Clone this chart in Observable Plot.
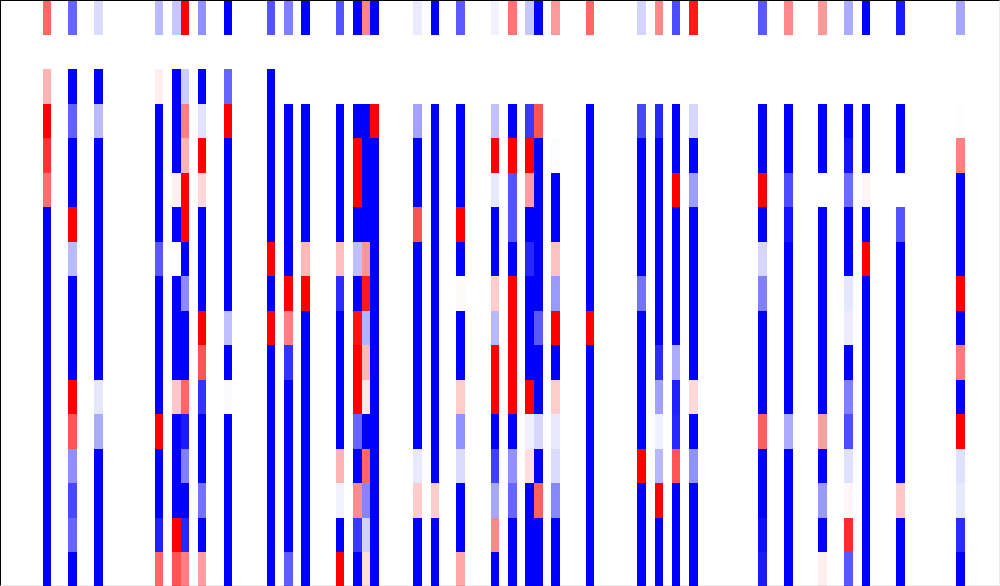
<!DOCTYPE html>
<html>
<head>
<meta charset="utf-8">
<script src="https://cdn.jsdelivr.net/npm/d3@7"></script>
<script src="https://cdn.jsdelivr.net/npm/@observablehq/plot@0.6"></script>
<style>
html,body{margin:0;padding:0;background:#fff;overflow:hidden}
#wrap{position:relative;width:1000px;height:586px}
#wrap svg{display:block}
#edge{position:absolute;left:0;top:0;width:1000px;height:586px;box-sizing:border-box;border-style:solid;border-width:1px;border-color:#000 rgba(0,0,0,.07) rgba(0,0,0,.07) #000;pointer-events:none}
</style>
</head>
<body>
<div id="wrap"><div id="edge"></div></div>
<script>
const columnCount = 116;
const rowCount = 17;
const _ = null;
const c005 = [-.6,_,-.3,-1,-.8,-.57,1,1,1,1,1,1,1,1,1,1,1];
const c008 = [.6,_,1,.62,1,1,-1,.27,1,1,1,-1,-.67,.44,.72,.6,1];
const c011 = [.14,_,1,.27,1,1,1,1,1,1,1,.1,.33,1,1,1,1];
const c018 = [.27,_,-.06,1,1,1,1,.65,1,1,1,1,-1,1,1,.87,-.6];
const c020 = [.22,_,1,1,1,-.06,1,_,1,1,1,-.22,1,1,1,-1,-.67];
const c021 = [-1,_,.2,-.5,-.3,-1,-1,1,.45,1,1,-.6,.9,.5,1,.85,-.5];
const c023 = [.43,_,1,.11,-1,-.15,1,1,1,-1,-.67,.8,1,1,.55,1,-.38];
const c026 = [1,_,.6,-1,1,1,1,1,1,.25,1,.02,1,1,1,1,1];
const c031 = [.67,_,1,1,1,1,1,-1,1,-1,1,1,1,1,1,1,1];
const c033 = [.5,_,_,1,1,1,1,1,-1,-.5,.8,1,1,1,1,1,.63];
const c035 = [1,_,_,1,1,1,1,-.28,-1,1,1,1,1,1,1,1,1];
const c039 = [.67,_,_,1,1,1,1,-.25,.83,1,1,1,1,-.3,.05,1,-1];
const c041 = [1,_,_,1,-1,-1,1,.25,1,-.93,-1,-1,.6,1,-.45,.78,1];
const c042 = [-.48,_,_,1,1,1,1,-.42,-.9,.3,-.28,-.1,1,-.6,.48,.18,-.13];
const c043 = [1,_,_,-1,1,1,1,1,1,1,1,1,1,1,1,1,1];
const c048 = [.08,_,_,.36,1,1,-.68,1,1,1,1,1,1,.09,-.2,1,1];
const c050 = [1,_,_,1,1,1,1,1,1,1,1,1,1,1,-.2,1,1];
const c053 = [.65,_,_,1,1,1,-1,1,-.02,1,1,-.2,.43,.14,1,1,-.35];
const c057 = [.05,_,_,.24,-1,.09,1,1,-.2,.28,-1,-1,1,.75,.35,-.47,1];
const c059 = [-.55,_,_,1,-1,.67,.67,1,-1,-1,-1,-1,1,.43,.6,1,1];
const c061 = [.22,_,_,.78,-1,-.38,1,.85,1,1,1,-1,.06,-.13,1,1,1];
const c062 = [1,_,_,-.68,1,1,1,1,1,.65,1,1,.16,1,-.62,1,1];
const c064 = [-.4,_,_,_,.01,1,1,-.24,.4,-1,1,-.2,.09,.14,.47,1,1];
const c068 = [-.6,_,_,1,1,1,1,1,1,-1,1,1,1,1,1,1,1];
const c074 = [.17,_,_,.72,1,1,1,1,.55,1,1,1,1,-1,1,1,1];
const c076 = [-.47,_,_,.85,1,1,1,1,1,1,.83,.37,.06,.28,-1,1,1];
const c078 = [.7,_,_,1,1,-1,1,1,1,1,.33,.87,.85,-.67,1,1,1];
const c080 = [-.9,_,_,.16,1,.38,1,1,1,1,1,-.15,1,.43,1,1,1];
const c088 = [.65,_,_,1,1,-1,1,.16,.5,1,1,1,-.63,1,1,.95,.9];
const c091 = [-.47,_,_,1,1,.7,.93,1,1,1,1,1,.33,1,1,1,1];
const c095 = [-.4,_,_,1,1,_,1,1,1,1,1,1,-.38,1,.4,1,-.06];
const c098 = [.33,_,_,1,.93,.58,1,1,.1,.07,1,.5,.7,.12,-.03,-.83,.66];
const c100 = [1,_,_,1,1,-.04,1,-1,1,1,1,1,1,1,1,1,1];
const c104 = [.9,_,_,1,1,_,.67,1,1,1,1,1,1,1,-.22,1,1];
const c111 = [.35,_,_,-.01,-.5,1,1,1,-1,1,-.52,1,-1,.12,.09,.83,1];

const filled = [
  [5,c005],[8,c008],[11,c011],[18,c018],[20,c020],[21,c021],[23,c023],[26,c026],
  [31,c031],[33,c033],[35,c035],[39,c039],[41,c041],[42,c042],[43,c043],[48,c048],
  [50,c050],[53,c053],[57,c057],[59,c059],[61,c061],[62,c062],[64,c064],[68,c068],
  [74,c074],[76,c076],[78,c078],[80,c080],[88,c088],[91,c091],[95,c095],[98,c098],
  [100,c100],[104,c104],[111,c111]
];
const cells = filled.flatMap(([col, vals]) =>
  vals.map((v, row) => ({col, row, v})).filter(d => d.v !== null));

const chart = Plot.plot({
  width: 1000,
  height: 586,
  margin: 0,
  x: {type: "band", domain: d3.range(columnCount), range: [-0.5, 999.42], padding: 0, round: false, axis: null},
  y: {type: "band", domain: d3.range(rowCount), range: [0.5, 586.49], padding: 0, round: false, axis: null},
  color: {type: "linear", domain: [-1, 0, 1], range: ["#ff0000", "#ffffff", "#0000ff"]},
  marks: [
    Plot.cell(cells, {x: "col", y: "row", fill: "v", inset: 0, shapeRendering: "crispEdges"})
  ]
});
document.getElementById("wrap").prepend(chart);
</script>
</body>
</html>
